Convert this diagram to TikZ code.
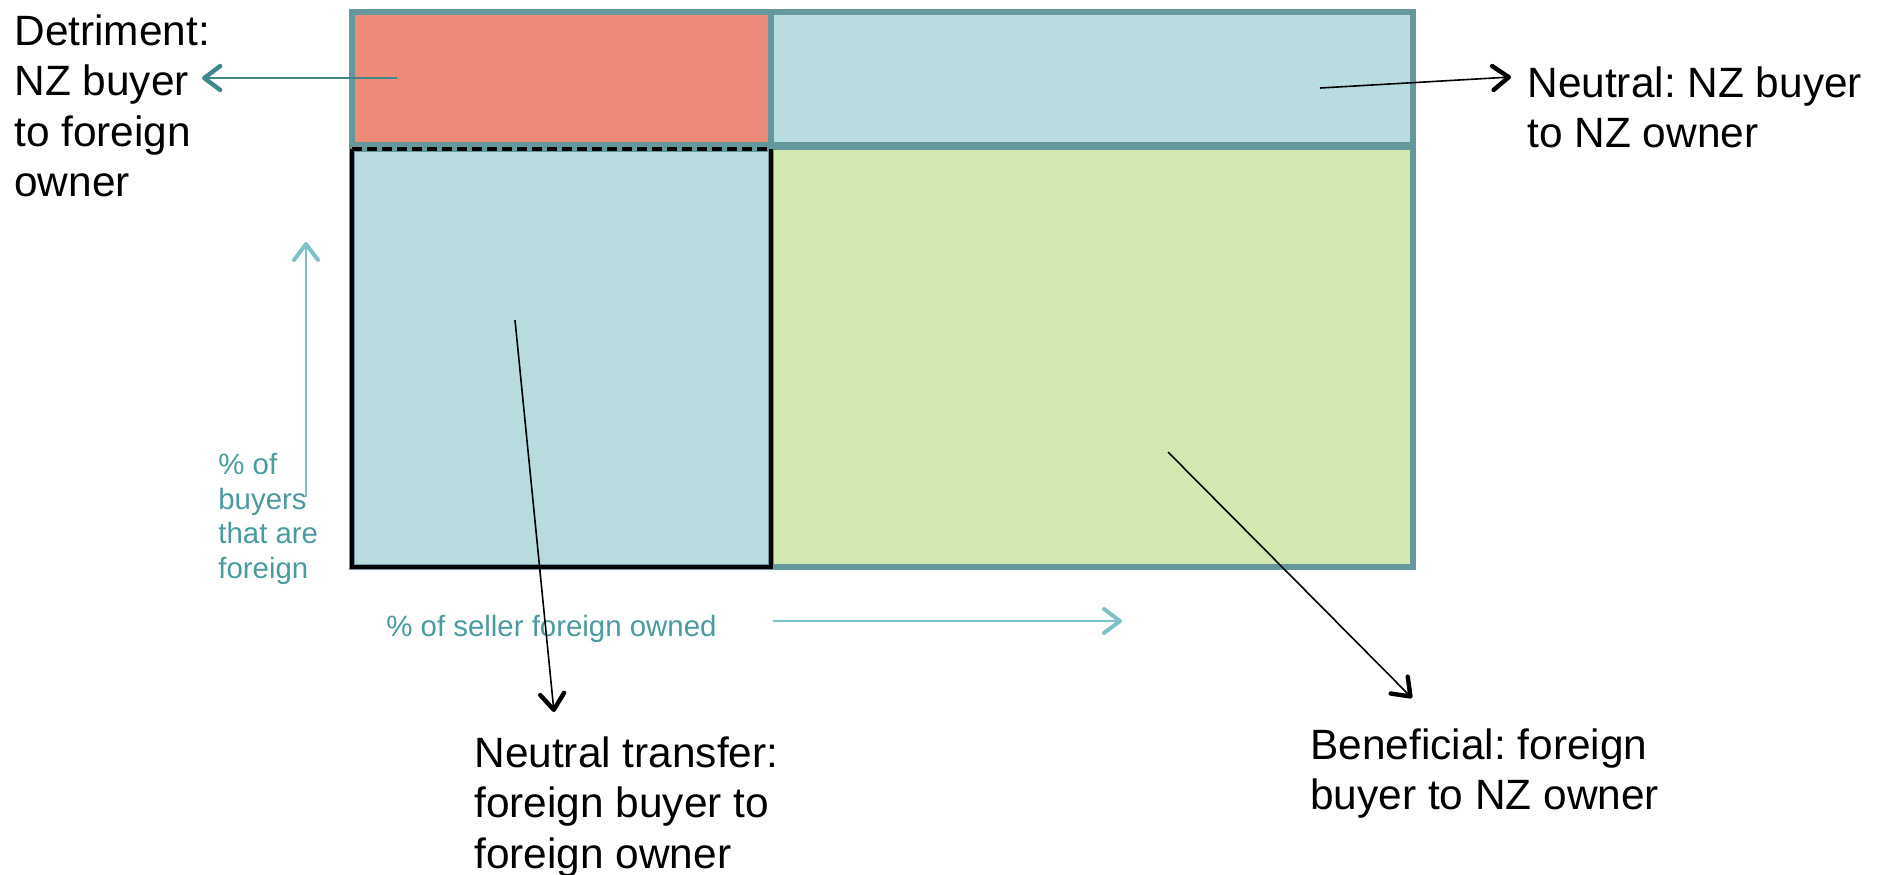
\documentclass[tikz,border=0pt]{standalone}
\usepackage{fontspec}
\setmainfont{Liberation Sans}
\usetikzlibrary{arrows.meta}
\definecolor{tealborder}{RGB}{100,152,156}
\definecolor{redfill}{RGB}{239,137,120}
\definecolor{bluefill}{RGB}{184,220,224}
\definecolor{greenfill}{RGB}{209,233,176}
\definecolor{darkteal}{RGB}{62,135,139}
\definecolor{lightteal}{RGB}{126,194,200}
\definecolor{axistext}{RGB}{74,154,160}
\frenchspacing
\begin{document}
\begin{tikzpicture}[x=0.5pt,y=-0.5pt,
  cell/.style={draw=tealborder, line width=2.6pt, inner sep=0pt, outer sep=0pt},
  bigtext/.style={anchor=north west, inner sep=0pt, align=left, font=\fontsize{21.2}{25.3}\selectfont},
  axtext/.style={anchor=north west, inner sep=0pt, align=left, text=axistext, font=\fontsize{14.7}{17.3}\selectfont},
  blackarrow/.style={draw=black, line width=0.8pt, -{Straight Barb[length=8pt,width=12pt,line width=2.2pt,round]}},
  detarrow/.style={draw=darkteal, line width=1pt, -{Straight Barb[length=8pt,width=12pt,line width=2.2pt,round]}},
  axarrow/.style={draw=lightteal, line width=1pt, -{Straight Barb[length=8pt,width=12pt,line width=2pt,round]}}
]
\useasboundingbox (0,0) rectangle (1892,874);
% cells
\node[cell, fill=redfill, minimum width=209.5pt, minimum height=66.5pt] (det) at (561.5,78.5) {};
\node[cell, fill=bluefill, minimum width=321pt, minimum height=66.5pt] (nzn) at (1092,78.5) {};
\node[cell, fill=greenfill, minimum width=321pt, minimum height=210pt] (ben) at (1092,357) {};
\node[cell, fill=bluefill, minimum width=209.5pt, minimum height=209pt] (fft) at (561.5,358) {};
\draw[black, line width=2pt] (fft.north west) -- (fft.south west) -- (fft.south east) -- (fft.north east);
\draw[black, line width=2pt, dash pattern=on 5pt off 2.5pt] (fft.north west) -- (fft.north east);
% labels
\node[bigtext] (tdet) at (14,14) {Detriment:\\NZ buyer\\to foreign\\owner};
\node[bigtext] (tnzn) at (1527,66) {Neutral: NZ buyer\\to NZ owner};
\node[bigtext] (tfft) at (474,736) {Neutral transfer:\\foreign buyer to\\foreign owner};
\node[bigtext] (tben) at (1310,728) {Beneficial: foreign\\buyer to NZ owner};
\node[axtext] (tsel) at (386,615) {\% of seller foreign owned};
\node[axtext] (tbuy) at (218,453) {\% of\\buyers\\that are\\foreign};
% connector end points
\coordinate (detA) at (397,78);
\coordinate (detB) at (202,78);
\coordinate (nznA) at (1320,88);
\coordinate (nznB) at (1511,77);
\coordinate (fftA) at (515,320);
\coordinate (fftB) at (554,712);
\coordinate (benA) at (1168,452);
\coordinate (benB) at (1412,698);
\coordinate (buyA) at (306,497);
\coordinate (buyB) at (306,242);
\coordinate (selA) at (773,621);
\coordinate (selB) at (1122,621);
% connectors
\draw[detarrow] (detA) -- (detB);
\draw[blackarrow] (nznA) -- (nznB);
\draw[blackarrow] (fftA) -- (fftB);
\draw[blackarrow] (benA) -- (benB);
\draw[axarrow] (buyA) -- (buyB);
\draw[axarrow] (selA) -- (selB);
\end{tikzpicture}
\end{document}
